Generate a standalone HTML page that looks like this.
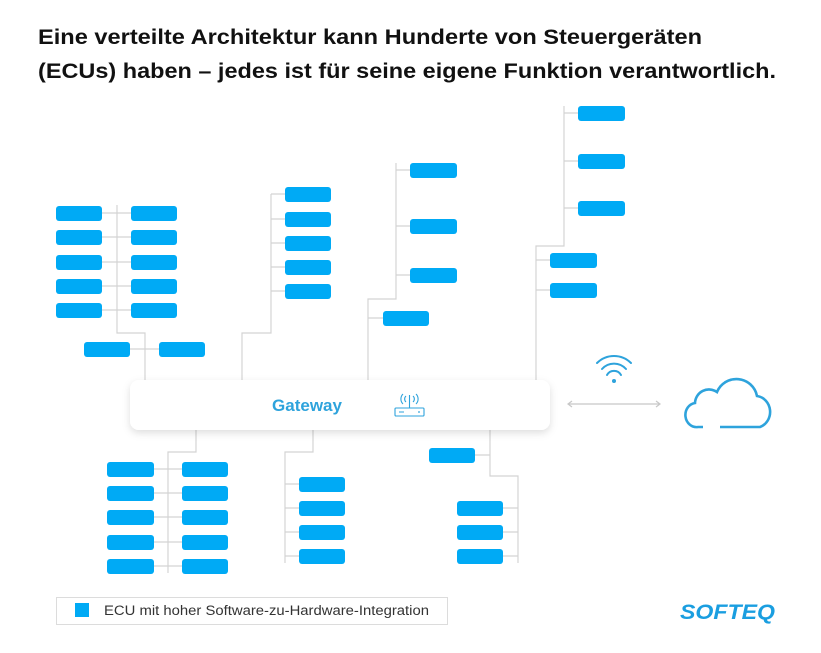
<!DOCTYPE html>
<html><head><meta charset="utf-8"><style>
html,body{margin:0;padding:0;background:#fff;}
svg{display:block;}
</style></head><body>
<svg width="821" height="653" viewBox="0 0 821 653" xmlns="http://www.w3.org/2000/svg" font-family="Liberation Sans, sans-serif">
<defs>
<filter id="sh" x="-10%" y="-30%" width="120%" height="170%"><feDropShadow dx="0" dy="3" stdDeviation="4" flood-color="#000" flood-opacity="0.13"/></filter>
</defs>
<rect width="821" height="653" fill="#fff"/>
<text x="38" y="44" font-size="21" font-weight="bold" fill="#111" textLength="664" lengthAdjust="spacingAndGlyphs">Eine verteilte Architektur kann Hunderte von Steuergeräten</text>
<text x="38" y="78" font-size="21" font-weight="bold" fill="#111" textLength="738" lengthAdjust="spacingAndGlyphs">(ECUs) haben – jedes ist für seine eigene Funktion verantwortlich.</text>

<g stroke="#d4d4d4" stroke-width="1.2" fill="none">
<!-- group 1 -->
<path d="M117 205V333H145V380"/>
<path d="M102 213H131M102 237H131M102 262H131M102 286H131M102 310H131"/>
<path d="M130 349H159"/>
<!-- group 2 -->
<path d="M271 194V333H242V380"/>
<path d="M271 194H285M271 219H285M271 243H285M271 267H285M271 291H285"/>
<!-- group 3 -->
<path d="M396 163V299H368V380"/>
<path d="M396 170H410M396 226H410M396 275H410M368 318H383"/>
<!-- group 4 -->
<path d="M564 106V246H536V380"/>
<path d="M564 113H578M564 161H578M564 208H578M536 260H550M536 290H550"/>
<!-- bottom left -->
<path d="M196 430V452H168V573"/>
<path d="M154 469H182M154 493H182M154 517H182M154 542H182M154 566H182"/>
<!-- bottom middle -->
<path d="M313 430V452H285V563"/>
<path d="M285 484H299M285 508H299M285 532H299M285 556H299"/>
<!-- bottom right -->
<path d="M490 430V476H518V563"/>
<path d="M475 455H490M503 508H518M503 532H518M503 556H518"/>
<!-- arrow -->
<path d="M568 404H660M572 401L568 404L572 407M656 401L660 404L656 407" stroke="#c8c8c8"/>
</g>

<g fill="#00aaf5">
<rect x="56" y="206" width="46" height="15" rx="3"/><rect x="56" y="230" width="46" height="15" rx="3"/><rect x="56" y="255" width="46" height="15" rx="3"/><rect x="56" y="279" width="46" height="15" rx="3"/><rect x="56" y="303" width="46" height="15" rx="3"/>
<rect x="131" y="206" width="46" height="15" rx="3"/><rect x="131" y="230" width="46" height="15" rx="3"/><rect x="131" y="255" width="46" height="15" rx="3"/><rect x="131" y="279" width="46" height="15" rx="3"/><rect x="131" y="303" width="46" height="15" rx="3"/>
<rect x="84" y="342" width="46" height="15" rx="3"/><rect x="159" y="342" width="46" height="15" rx="3"/>
<rect x="285" y="187" width="46" height="15" rx="3"/><rect x="285" y="212" width="46" height="15" rx="3"/><rect x="285" y="236" width="46" height="15" rx="3"/><rect x="285" y="260" width="46" height="15" rx="3"/><rect x="285" y="284" width="46" height="15" rx="3"/>
<rect x="410" y="163" width="47" height="15" rx="3"/><rect x="410" y="219" width="47" height="15" rx="3"/><rect x="410" y="268" width="47" height="15" rx="3"/><rect x="383" y="311" width="46" height="15" rx="3"/>
<rect x="578" y="106" width="47" height="15" rx="3"/><rect x="578" y="154" width="47" height="15" rx="3"/><rect x="578" y="201" width="47" height="15" rx="3"/>
<rect x="550" y="253" width="47" height="15" rx="3"/><rect x="550" y="283" width="47" height="15" rx="3"/>
<rect x="107" y="462" width="47" height="15" rx="3"/><rect x="107" y="486" width="47" height="15" rx="3"/><rect x="107" y="510" width="47" height="15" rx="3"/><rect x="107" y="535" width="47" height="15" rx="3"/><rect x="107" y="559" width="47" height="15" rx="3"/>
<rect x="182" y="462" width="46" height="15" rx="3"/><rect x="182" y="486" width="46" height="15" rx="3"/><rect x="182" y="510" width="46" height="15" rx="3"/><rect x="182" y="535" width="46" height="15" rx="3"/><rect x="182" y="559" width="46" height="15" rx="3"/>
<rect x="299" y="477" width="46" height="15" rx="3"/><rect x="299" y="501" width="46" height="15" rx="3"/><rect x="299" y="525" width="46" height="15" rx="3"/><rect x="299" y="549" width="46" height="15" rx="3"/>
<rect x="429" y="448" width="46" height="15" rx="3"/>
<rect x="457" y="501" width="46" height="15" rx="3"/><rect x="457" y="525" width="46" height="15" rx="3"/><rect x="457" y="549" width="46" height="15" rx="3"/>
</g>

<rect x="130" y="380" width="420" height="50" rx="9" fill="#fff" filter="url(#sh)"/>
<text x="307" y="411" font-size="17" font-weight="bold" fill="#2ea3dc" text-anchor="middle">Gateway</text>
<g stroke="#2ea3dc" stroke-width="1.1" fill="none">
<rect x="395" y="408" width="29" height="8" rx="1"/>
<path d="M399 412H404M409.5 408V395"/>
<path d="M406 396a4 4 0 0 0 0 6M403 394a7 7 0 0 0 0 10M413 396a4 4 0 0 1 0 6M416 394a7 7 0 0 1 0 10"/>
</g>
<circle cx="419" cy="412" r="0.9" fill="#2ea3dc"/>

<g stroke="#2ea3dc" stroke-width="2" fill="none" stroke-linecap="round">
<path d="M597 363a24 24 0 0 1 34 0"/>
<path d="M602 369a16 16 0 0 1 24 0"/>
<path d="M607 375a8 8 0 0 1 14 0"/>
</g>
<circle cx="614" cy="381" r="2" fill="#2ea3dc"/>
<path d="M703 427H698a11 12 0 0 1 -3 -24a14 14 0 0 1 22 -11a21 21 0 0 1 40 4a15 16 0 0 1 3 31H720" stroke="#2ea3dc" stroke-width="2.6" fill="none"/>

<rect x="56.5" y="597.5" width="391" height="27" fill="#fff" stroke="#dcdcdc"/>
<rect x="75" y="603" width="14" height="14" fill="#00aaf5"/>
<text x="104" y="615" font-size="13.5" fill="#333" textLength="325" lengthAdjust="spacingAndGlyphs">ECU mit hoher Software-zu-Hardware-Integration</text>
<text x="680" y="619" font-size="21" font-weight="bold" font-style="italic" fill="#1a9ee0" textLength="95" lengthAdjust="spacingAndGlyphs">SOFTEQ</text>
</svg>
</body></html>
